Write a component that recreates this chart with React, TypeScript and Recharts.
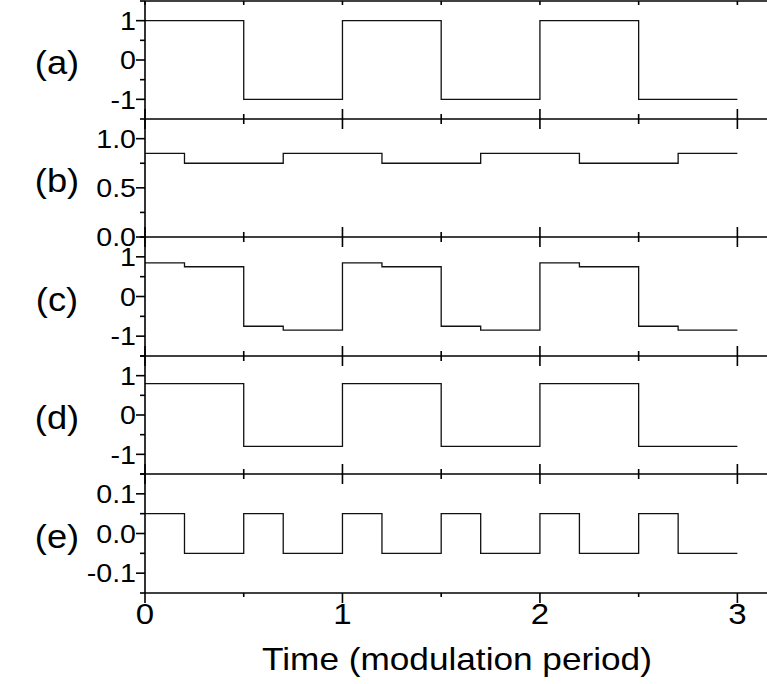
import React from 'react';
import { LineChart, Line, XAxis, YAxis } from 'recharts';

const FONT = '"Liberation Sans", Arial, Helvetica, sans-serif';
const STRETCH = 1.1; // the source figure is a bit wider than tall

// time axis (modulation periods)
const xTicks = [0, 0.5, 1, 1.5, 2, 2.5, 3];

// (a) drive square wave
const edgesA = [0, 0.5, 1, 1.5, 2, 2.5, 3];
const levelsA = [1, -1, 1, -1, 1, -1];
// (b)
const edgesB = [0, 0.2, 0.7, 1.2, 1.7, 2.2, 2.7, 3];
const levelsB = [0.85, 0.75, 0.85, 0.75, 0.85, 0.75, 0.85];
// (c)
const edgesC = [0, 0.2, 0.5, 0.7, 1, 1.2, 1.5, 1.7, 2, 2.2, 2.5, 2.7, 3];
const levelsC = [0.85, 0.75, -0.75, -0.85, 0.85, 0.75, -0.75, -0.85, 0.85, 0.75, -0.75, -0.85];
// (d)
const edgesD = [0, 0.5, 1, 1.5, 2, 2.5, 3];
const levelsD = [0.8, -0.8, 0.8, -0.8, 0.8, -0.8];
// (e)
const edgesE = [0, 0.2, 0.5, 0.7, 1, 1.2, 1.5, 1.7, 2, 2.2, 2.5, 2.7, 3];
const levelsE = [0.05, -0.05, 0.05, -0.05, 0.05, -0.05, 0.05, -0.05, 0.05, -0.05, 0.05, -0.05];

// y ticks
const yMajorUnit = [-1, 0, 1];
const yLabelsUnit = ['-1', '0', '1'];
const yMinorUnit = [-1.5, -0.5, 0.5, 1.5];
const yMajorB = [0, 0.5, 1];
const yLabelsB = ['0.0', '0.5', '1.0'];
const yMinorB = [0.25, 0.75];
const yMajorE = [-0.1, 0, 0.1];
const yLabelsE = ['-0.1', '0.0', '0.1'];
const yMinorE = [-0.15, -0.05, 0.05, 0.15];

function steps(edges: number[], levels: number[]) {
    const pts: { t: number; v: number }[] = [];
    levels.forEach((v, i) => {
        pts.push({ t: edges[i], v });
        pts.push({ t: edges[i + 1], v });
    });
    return pts;
}

const panels = [
    { label: '(a)', edges: edgesA, levels: levelsA, domain: [-1.5, 1.5], major: yMajorUnit, labels: yLabelsUnit, minor: yMinorUnit, top: 1, h: 118 },
    { label: '(b)', edges: edgesB, levels: levelsB, domain: [0, 1.2], major: yMajorB, labels: yLabelsB, minor: yMinorB, top: 119, h: 118 },
    { label: '(c)', edges: edgesC, levels: levelsC, domain: [-1.5, 1.5], major: yMajorUnit, labels: yLabelsUnit, minor: yMinorUnit, top: 237, h: 119 },
    { label: '(d)', edges: edgesD, levels: levelsD, domain: [-1.5, 1.5], major: yMajorUnit, labels: yLabelsUnit, minor: yMinorUnit, top: 356, h: 118 },
    { label: '(e)', edges: edgesE, levels: levelsE, domain: [-0.15, 0.15], major: yMajorE, labels: yLabelsE, minor: yMinorE, top: 474, h: 119 },
];

const AXIS = { stroke: '#000', strokeWidth: 1.6 };

function StretchText({ x, y, size, anchor, children }: any) {
    return (
        <text
            transform={`translate(${x} ${y}) scale(${STRETCH} 1)`}
            textAnchor={anchor}
            fontSize={size}
            fontFamily={FONT}
            fill="#000"
        >
            {children}
        </text>
    );
}

// ticks across an inner boundary between two panels
const crossTick = (props: any) => {
    const { x, y, payload } = props;
    const len = Number.isInteger(payload.value) ? 10 : 5;
    return <line x1={x} x2={x} y1={y - len} y2={y + len} {...AXIS} />;
};

// top edge of the first panel
const topTick = (props: any) => {
    const { x, y } = props;
    return <line x1={x} x2={x} y1={y} y2={y + 4} {...AXIS} />;
};

// outer bottom axis with labels
const bottomTick = (props: any) => {
    const { x, y, payload } = props;
    const major = Number.isInteger(payload.value);
    return (
        <g>
            <line x1={x} x2={x} y1={y} y2={y + (major ? 10 : 4)} {...AXIS} />
            {major && (
                <StretchText x={x} y={y + 31} size={30} anchor="middle">
                    {String(payload.value)}
                </StretchText>
            )}
        </g>
    );
};

const makeYTick = (major: number[], labels: string[]) => (props: any) => {
    const { x, y, payload } = props;
    const idx = major.indexOf(payload.value);
    const len = idx >= 0 ? 9 : 5;
    return (
        <g>
            <line x1={x - len} x2={x} y1={y} y2={y} {...AXIS} />
            {idx >= 0 && (
                <StretchText x={x - 9} y={y + 9.2} size={26} anchor="end">
                    {labels[idx]}
                </StretchText>
            )}
        </g>
    );
};

export default function App() {
    return (
        <div style={{ position: 'absolute', left: 0, top: 0, width: 767, height: 684, overflow: 'hidden', background: '#fff' }}>
            {panels.map((p, i) => {
                const last = i === panels.length - 1;
                const first = i === 0;
                const mt = 14;
                const mb = last ? 684 - (p.top + p.h) : 14;
                return (
                    <div key={p.label} style={{ position: 'absolute', left: 0, top: p.top - mt }}>
                        <LineChart
                            width={767}
                            height={mt + p.h + mb}
                            data={steps(p.edges, p.levels)}
                            margin={{ top: first ? mt - 1 : mt, right: 0, bottom: mb - 1, left: 0 }}
                        >
                            <XAxis
                                xAxisId="b"
                                dataKey="t"
                                type="number"
                                domain={[0, 3.15]}
                                ticks={xTicks}
                                interval={0}
                                height={1}
                                tickSize={0}
                                tickMargin={0}
                                tickLine={false}
                                axisLine={AXIS}
                                tick={last ? bottomTick : crossTick}
                                allowDataOverflow
                            />
                            {first && (
                                <XAxis
                                    xAxisId="t"
                                    orientation="top"
                                    dataKey="t"
                                    type="number"
                                    domain={[0, 3.15]}
                                    ticks={xTicks}
                                    interval={0}
                                    height={1}
                                    tickSize={0}
                                    tickMargin={0}
                                    tickLine={false}
                                    axisLine={AXIS}
                                    tick={topTick}
                                    allowDataOverflow
                                />
                            )}
                            <YAxis
                                type="number"
                                domain={p.domain}
                                ticks={[...p.major, ...p.minor].sort((a, b) => a - b)}
                                interval={0}
                                width={145}
                                tickSize={0}
                                tickMargin={0}
                                tickLine={false}
                                axisLine={AXIS}
                                tick={makeYTick(p.major, p.labels)}
                                allowDataOverflow
                            />
                            <Line
                                xAxisId="b"
                                dataKey="v"
                                type="linear"
                                stroke="#111"
                                strokeWidth={1.3}
                                dot={false}
                                isAnimationActive={false}
                            />
                        </LineChart>
                    </div>
                );
            })}
            <svg width={767} height={684} style={{ position: 'absolute', left: 0, top: 0, pointerEvents: 'none' }}>
                {panels.map((p) => (
                    <StretchText key={p.label} x={57} y={p.top + p.h / 2 + 14} size={33} anchor="middle">
                        {p.label}
                    </StretchText>
                ))}
                <StretchText x={457} y={670} size={32} anchor="middle">
                    Time (modulation period)
                </StretchText>
            </svg>
        </div>
    );
}
